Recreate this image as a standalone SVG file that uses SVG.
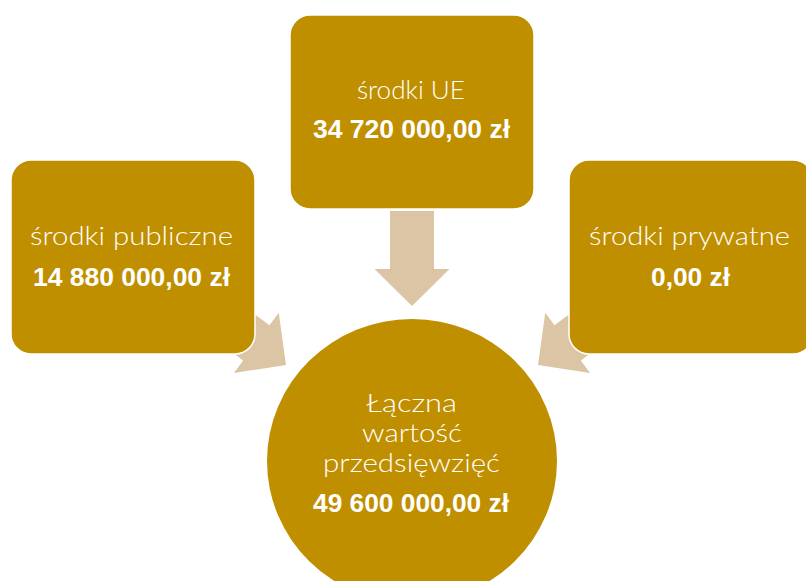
<svg xmlns="http://www.w3.org/2000/svg" width="806" height="581" viewBox="0 0 806 581">
<defs>
<style>
.box{fill:#BF8F00;stroke:#FFFFFF;stroke-width:1.5}
.arrow{fill:#DCC5A5}
.lbl{font-family:"Lato","Open Sans","DejaVu Sans",sans-serif;font-weight:300;font-size:25px;fill:#FFFFFF;text-anchor:middle}
.val{font-family:"Liberation Sans","Arial",sans-serif;font-weight:bold;font-size:25px;fill:#FFFFFF;text-anchor:middle}
</style>
<polygon id="arr" points="-22,-95 22,-95 22,-37 37.5,-37 0,0 -37.5,-37 -22,-37"/>
</defs>
<rect width="806" height="581" fill="#FFFFFF"/>
<g id="connectors">
<use href="#arr" class="arrow" transform="translate(412,306)"/>
<use href="#arr" class="arrow" transform="translate(286,365) rotate(-53.3)"/>
<use href="#arr" class="arrow" transform="translate(538,365) rotate(53.3)"/>
</g>
<g id="node-ue">
<rect class="box" x="290" y="15" width="244" height="194" rx="20"/>
<text class="lbl" x="411" y="99" textLength="108" lengthAdjust="spacingAndGlyphs">środki UE</text>
<text class="val" x="411.5" y="138" textLength="197" lengthAdjust="spacingAndGlyphs">34 720 000,00 zł</text>
</g>
<g id="node-publiczne">
<rect class="box" x="11" y="160" width="244" height="194" rx="20"/>
<text class="lbl" x="131.5" y="245" textLength="203" lengthAdjust="spacingAndGlyphs">środki publiczne</text>
<text class="val" x="131.5" y="286" textLength="197" lengthAdjust="spacingAndGlyphs">14 880 000,00 zł</text>
</g>
<g id="node-prywatne">
<rect class="box" x="569" y="160" width="244" height="194" rx="20"/>
<text class="lbl" x="689.5" y="245" textLength="201" lengthAdjust="spacingAndGlyphs">środki prywatne</text>
<text class="val" x="690.5" y="286" textLength="79" lengthAdjust="spacingAndGlyphs">0,00 zł</text>
</g>
<g id="node-total">
<ellipse cx="412" cy="461" rx="145" ry="142" fill="#BF8F00"/>
<text class="lbl" x="411.5" y="412" textLength="91" lengthAdjust="spacingAndGlyphs">Łączna</text>
<text class="lbl" x="412" y="442" textLength="100" lengthAdjust="spacingAndGlyphs">wartość</text>
<text class="lbl" x="411.5" y="472" textLength="177" lengthAdjust="spacingAndGlyphs">przedsięwzięć</text>
<text class="val" x="411" y="512" textLength="196" lengthAdjust="spacingAndGlyphs">49 600 000,00 zł</text>
</g>
</svg>
